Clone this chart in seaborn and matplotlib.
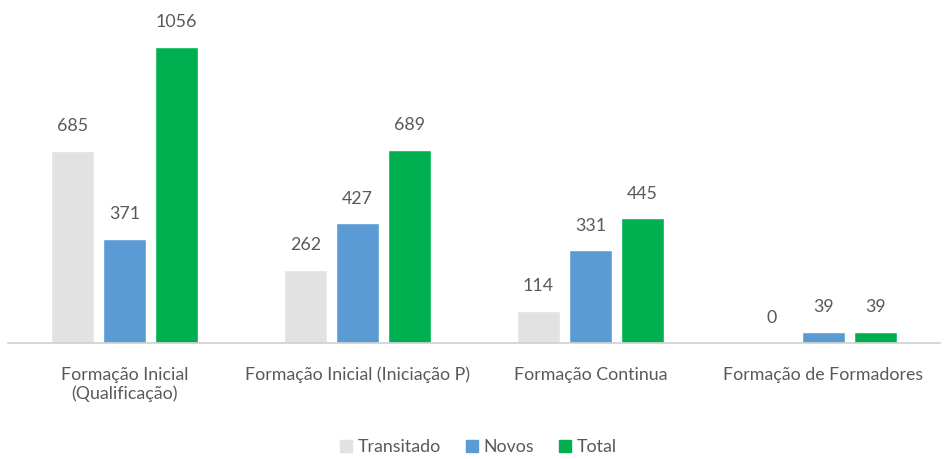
import matplotlib
matplotlib.use('Agg')
import matplotlib.pyplot as plt
import seaborn as sns
import pandas as pd

categories = ['Formação Inicial\n(Qualificação)', 'Formação Inicial (Iniciação P)',
              'Formação Continua', 'Formação de Formadores']
series = ['Transitado', 'Novos', 'Total']
transitado = [685, 262, 114, 0]
novos = [371, 427, 331, 39]
total = [1056, 689, 445, 39]
colors = ['#E2E2E2', '#5B9BD5', '#00B050']

df = pd.DataFrame({
    'categoria': categories * 3,
    'serie': [s for s in series for _ in categories],
    'valor': transitado + novos + total,
})

sns.set_style('white')
plt.rcParams['font.family'] = ['Lato', 'DejaVu Sans']
text_color = '#595959'

fig = plt.figure(figsize=(9.47, 4.59), dpi=100)
ax = fig.add_axes([8 / 947, 116 / 459, 932 / 947, 343 / 459])

sns.barplot(data=df, x='categoria', y='valor', hue='serie', palette=colors,
            width=0.67, gap=0.19, saturation=1, ax=ax, legend=False)

for cont in ax.containers:
    ax.bar_label(cont, fmt='%d', padding=12, fontsize=12.8, color=text_color)

ax.set_xlim(-0.5, 3.5)
ax.set_ylim(0, 1224)
ax.set_xlabel('')
ax.set_ylabel('')
ax.set_yticks([])
for side in ['top', 'right', 'left']:
    ax.spines[side].set_visible(False)
ax.spines['bottom'].set_color('#D0D0D0')
ax.spines['bottom'].set_linewidth(1.2)
ax.tick_params(axis='x', length=0, pad=17, labelsize=12.8, labelcolor=text_color)

handles = [plt.Rectangle((0, 0), 1, 1, color=c) for c in colors]
fig.legend(handles, series, loc='center', bbox_to_anchor=(0.505, 12 / 459), ncol=3,
           frameon=False, fontsize=12.8, labelcolor=text_color,
           handlelength=0.7, handleheight=0.7, handletextpad=0.3, columnspacing=1.4)

plt.savefig('out.png', dpi=100)
plt.close()
